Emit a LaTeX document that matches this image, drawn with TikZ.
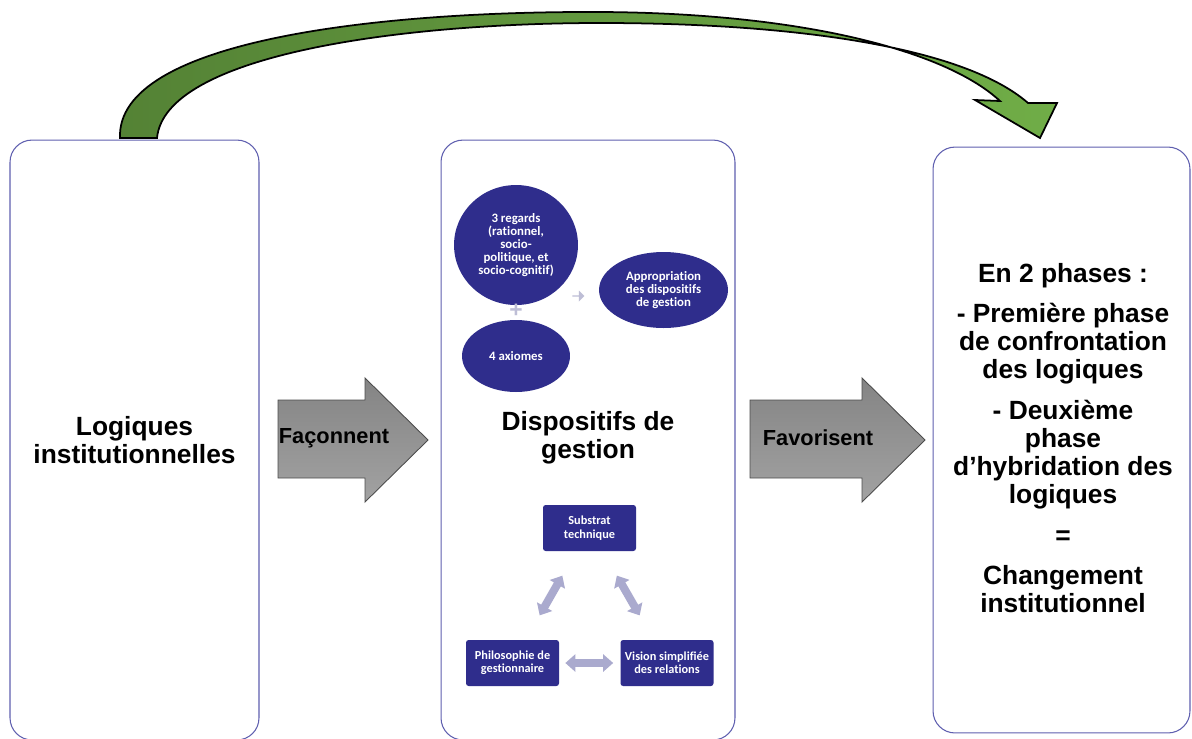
\documentclass[tikz,border=0pt]{standalone}
\usepackage{fontspec}
\setmainfont{Liberation Sans}
\newfontfamily\smallfont[RawFeature=-liga]{Carlito}
\usetikzlibrary{shapes.geometric,shapes.arrows,arrows.meta,positioning}
\definecolor{navy}{RGB}{47,45,140}
\definecolor{boxline}{RGB}{95,95,175}
\definecolor{lavender}{RGB}{170,170,206}
\definecolor{softgray}{RGB}{190,190,214}
\definecolor{grndark}{RGB}{84,130,53}
\definecolor{grnlight}{RGB}{112,173,71}
\definecolor{arrtop}{RGB}{132,132,132}
\definecolor{arrbot}{RGB}{162,162,162}

\tikzset{
  panel/.style={draw=boxline, line width=0.6pt, rounded corners=0.44cm, fill=white,
    font=\bfseries\fontsize{15}{16}\selectfont, align=center},
  bigtxt/.style={font=\bfseries\fontsize{15}{16}\selectfont, align=center},
  bubble/.style={ellipse, fill=navy, text=white, inner sep=0pt, align=center,
    font=\smallfont\bfseries\fontsize{7.3}{7.3}\selectfont},
  tile/.style={rectangle, fill=navy, text=white, inner sep=0pt, rounded corners=1.5pt,
    minimum width=1.86cm, minimum height=0.92cm, align=center,
    font=\smallfont\bfseries\fontsize{7}{7.6}\selectfont},
  twoway/.style={draw=lavender, line width=0.16cm,
    {Triangle[width=0.34cm,length=0.2cm]}-{Triangle[width=0.34cm,length=0.2cm]}},
  blockarr/.style={top color=arrtop, bottom color=arrbot, draw=black!70, line width=0.5pt},
  arrlbl/.style={font=\bfseries\fontsize{12.4}{14}\selectfont}
}

\begin{document}
\begin{tikzpicture}[x=0.02cm,y=-0.02cm]
\useasboundingbox (0,0) rectangle (1192,738);

% the three panels
\node[panel, minimum width=4.98cm, minimum height=12cm] (logiq) at (134.5,440) {Logiques\\institutionnelles};
\node[panel, minimum width=5.88cm, minimum height=12cm] (dispo) at (588,440) {};
\node[panel, minimum width=5.14cm, minimum height=11.72cm] (chang) at (1061.5,440) {};

% curved green arrow over the top
\shade[left color=grndark, right color=grnlight, draw=black, line width=1pt]
  (120,138) .. controls (116,40) and (380,11) .. (600,12)
  .. controls (800,13) and (945,50) .. (1000,101)
  -- (975,100) -- (1040,138) -- (1057,103) -- (1028,103)
  .. controls (965,48) and (800,23) .. (600,23)
  .. controls (400,23) and (165,55) .. (157,138) -- cycle;

% grey block arrows
\draw[blockarr] (278,400) -- (365,400) -- (365,378) -- (428,440) -- (365,502) -- (365,478) -- (278,478) -- cycle;
\node[arrlbl] (faconne) at (334,438) {Façonnent};
\draw[blockarr] (750,400) -- (862,400) -- (862,378) -- (925,440) -- (862,502) -- (862,478) -- (750,478) -- cycle;
\node[arrlbl] (favor) at (818,438) {Favorisent};

% middle panel
\node[bubble, minimum width=2.48cm, minimum height=2.4cm] (regards) at (516,245) {3 regards\\(rationnel,\\socio-\\politique, et\\socio-cognitif)};
\node[bubble, minimum width=2.58cm, minimum height=1.52cm] (appro) at (663.5,290) {Appropriation\\des dispositifs\\de gestion};
\node[bubble, minimum width=2.16cm, minimum height=1.44cm] (axiom) at (516,356) {4 axiomes};
\node[text=softgray, font=\bfseries\fontsize{13}{13}\selectfont, inner sep=0pt] (plus) at (516,311) {+};
\node[single arrow, fill=softgray, inner sep=0pt, minimum height=0.24cm, minimum width=0.22cm,
  single arrow head extend=0.05cm] (pointer) at (578,296) {};

\node[bigtxt] (dispotxt) at (588,438) {Dispositifs de\\gestion};

\node[tile] (subst) at (589.5,528) {Substrat\\technique};
\node[tile] (philo) at (512.5,663) {Philosophie de\\gestionnaire};
\node[tile] (vision) at (667,663) {Vision simplifiée\\des relations};
\draw[twoway, shorten <=0.56cm, shorten >=0.56cm] (subst) -- (philo);
\draw[twoway, shorten <=0.56cm, shorten >=0.56cm] (subst) -- (vision);
\draw[twoway, shorten <=0.12cm, shorten >=0.14cm] (philo) -- (vision);

% right panel
\node[bigtxt] (changtxt) at (1063,438) {En 2 phases :\\[7pt]- Première phase\\de confrontation\\des logiques\\[7pt]- Deuxième\\phase\\d’hybridation des\\logiques\\[7pt]=\\[7pt]Changement\\institutionnel};
\end{tikzpicture}
\end{document}
